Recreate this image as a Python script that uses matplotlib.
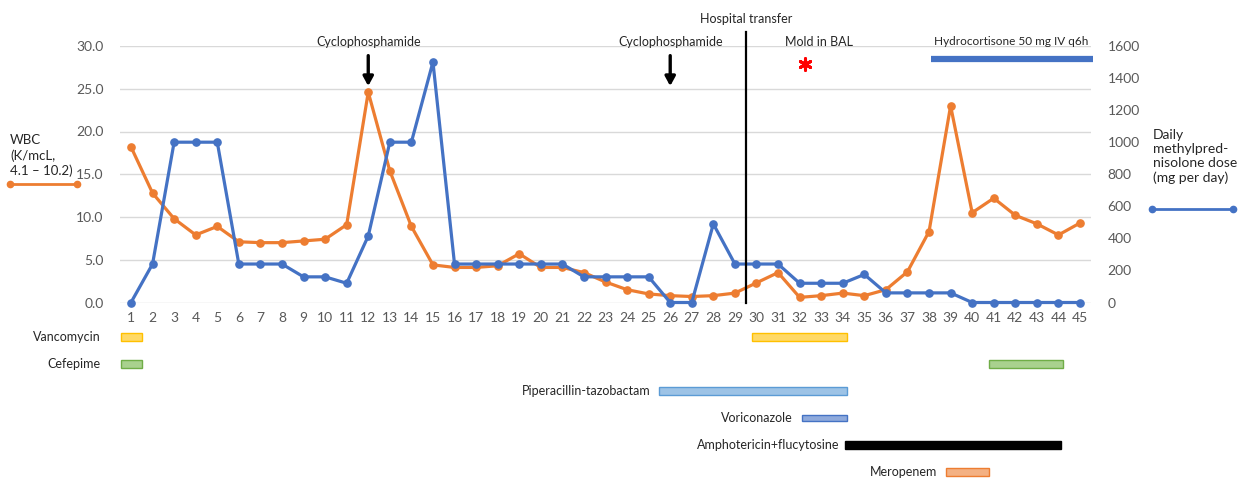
import matplotlib
matplotlib.use("Agg")
import matplotlib.pyplot as plt
from matplotlib.lines import Line2D
import numpy as np

plt.rcParams['font.family'] = ['Lato', 'DejaVu Sans']

# ---------------- data ----------------
days = list(range(1, 46))
wbc = [18.2, 12.8, 9.8, 7.9, 8.9, 7.1, 7.0, 7.0, 7.2, 7.4, 9.1, 24.6, 15.4, 8.9,
       4.4, 4.1, 4.1, 4.3, 5.7, 4.1, 4.1, 3.5, 2.4, 1.5, 1.0, 0.8, 0.7, 0.8, 1.1,
       2.3, 3.5, 0.6, 0.8, 1.1, 0.8, 1.5, 3.6, 8.3, 23.0, 10.5, 12.2, 10.2, 9.2,
       7.9, 9.3]
methylpred = [0, 240, 1000, 1000, 1000, 240, 240, 240, 160, 160, 120, 415, 1000,
              1000, 1500, 240, 240, 240, 240, 240, 240, 160, 160, 160, 160, 0, 0,
              490, 240, 240, 240, 120, 120, 120, 175, 60, 60, 60, 60, 0, 0, 0, 0,
              0, 0]

left_ticks = [0, 5, 10, 15, 20, 25, 30]
right_ticks = [0, 200, 400, 600, 800, 1000, 1200, 1400, 1600]

cyclophosphamide_days = [12, 26]
transfer_day = 29.5
mold_day = 32.25
hydrocortisone_span = (38.1, 45.6)

treatments = ["Vancomycin", "Cefepime", "Piperacillin-tazobactam",
              "Voriconazole", "Amphotericin+flucytosine", "Meropenem"]
treatment_spans = [
    [(0.55, 1.5), (29.8, 34.2)],
    [(0.55, 1.5), (40.8, 44.2)],
    [(25.5, 34.2)],
    [(32.1, 34.2)],
    [(34.1, 44.1)],
    [(38.8, 40.8)],
]

# ---------------- styles ----------------
ORANGE = "#ED7D31"
BLUE = "#4472C4"
GRID = "#D9D9D9"
TICK = "#595959"
TXT = "#262626"
bar_face = ["#FFD966", "#A9D18E", "#9DC3E6", "#8FAADC", "#000000", "#F4B183"]
bar_edge = ["#FFC000", "#70AD47", "#5B9BD5", "#4472C4", "#000000", "#ED7D31"]
bar_height = [0.26, 0.26, 0.26, 0.24, 0.3, 0.26]
label_offset_px = [-21, -21, -9, -9, -5, -9]

W, H = 1248, 478
fig = plt.figure(figsize=(W / 100, H / 100), dpi=100)

x0, x1 = 120.2, 1090.8
ytop, ybot = 46.0, 302.5
ax = fig.add_axes([x0 / W, 1 - ybot / H, (x1 - x0) / W, (ybot - ytop) / H])
ax_r = ax.twinx()

# WBC line (left axis)
ax.plot(days, wbc, color=ORANGE, lw=2.3, marker='o', ms=5.2, zorder=3,
        clip_on=False)
ax.set_xlim(0.5, 45.5)
ax.set_ylim(0, 30)
ax.set_yticks(left_ticks)
ax.set_yticklabels([f"{v:.1f}" for v in left_ticks])
ax.set_xticks(days)
ax.set_xticklabels([str(d) for d in days])
ax.grid(axis='y', color=GRID, lw=1)
ax.set_axisbelow(True)
ax.tick_params(axis='both', length=0, labelsize=10, colors=TICK)
ax.tick_params(axis='y', pad=12)
ax.tick_params(axis='x', pad=7)
for s in ax.spines.values():
    s.set_visible(False)

# methylprednisolone line (right axis)
ax_r.plot(days, methylpred, color=BLUE, lw=2.3, marker='o', ms=5.2, zorder=3,
          clip_on=False)
ax_r.set_ylim(0, 1600)
ax_r.set_yticks(right_ticks)
ax_r.set_yticklabels([str(v) for v in right_ticks])
ax_r.tick_params(axis='y', length=0, labelsize=10, colors=TICK, pad=12)
for s in ax_r.spines.values():
    s.set_visible(False)

# annotations
for d in cyclophosphamide_days:
    ax_r.text(d, 1625, "Cyclophosphamide", ha='center', va='center',
              fontsize=9, color=TXT)
    ax_r.annotate("", xy=(d, 1350), xytext=(d, 1540),
                  arrowprops=dict(arrowstyle='-|>,head_width=0.3,head_length=0.55',
                                  color='black', lw=2.4, shrinkA=0, shrinkB=0),
                  zorder=5)

ax_r.plot([transfer_day, transfer_day], [0, 1690], color='black', lw=1.6,
          clip_on=False, zorder=4)
ax_r.text(transfer_day, 1770, "Hospital transfer", ha='center', va='center',
          fontsize=9, color=TXT, clip_on=False)
ax_r.text(32.9, 1625, "Mold in BAL", ha='center', va='center', fontsize=9,
          color=TXT)
ax_r.scatter([mold_day], [1490], marker=(6, 2, 0), s=70, color='red',
             linewidths=2.2, zorder=5)
ax_r.text(41.8, 1625, "Hydrocortisone 50 mg IV q6h", ha='center', va='center',
          fontsize=8.5, color=TXT)
ax_r.plot(hydrocortisone_span, [1519, 1519], color=BLUE, lw=4.5,
          solid_capstyle='butt', clip_on=False, zorder=4)

# side legends
fig.text(10 / W, 1 - 134 / H, "WBC\n(K/mcL,\n4.1 \u2013 10.2)", ha='left',
         va='top', fontsize=9.5, color=TXT, linespacing=1.3)
fig.add_artist(Line2D([10 / W, 77 / W], [1 - 184 / H, 1 - 184 / H],
                      transform=fig.transFigure, color=ORANGE, lw=2,
                      marker='o', ms=4.5))
fig.text(1153 / W, 1 - 129 / H, "Daily\nmethylpred-\nnisolone dose\n(mg per day)",
         ha='left', va='top', fontsize=10, color=TXT, linespacing=1.2)
fig.add_artist(Line2D([1152 / W, 1233 / W], [1 - 209 / H, 1 - 209 / H],
                      transform=fig.transFigure, color=BLUE, lw=2,
                      marker='o', ms=4.5))

# treatment timeline
bx_top = 325.0
row0, rstep = 337.0, 27.0
axb = fig.add_axes([x0 / W, 0, (x1 - x0) / W, (H - bx_top) / H])
axb.set_xlim(0.5, 45.5)
axb.set_ylim((H - row0) / rstep, (bx_top - row0) / rstep)
axb.axis('off')
for i, name in enumerate(treatments):
    for (a, b) in treatment_spans[i]:
        axb.barh(i, b - a, left=a, height=bar_height[i], color=bar_face[i],
                 edgecolor=bar_edge[i], linewidth=1, clip_on=False)
    first = treatment_spans[i][0][0]
    axb.annotate(name, xy=(first, i), xytext=(label_offset_px[i], 0),
                 textcoords='offset pixels', ha='right', va='center',
                 fontsize=9, color=TXT, annotation_clip=False)

fig.savefig("out.png", dpi=100)
